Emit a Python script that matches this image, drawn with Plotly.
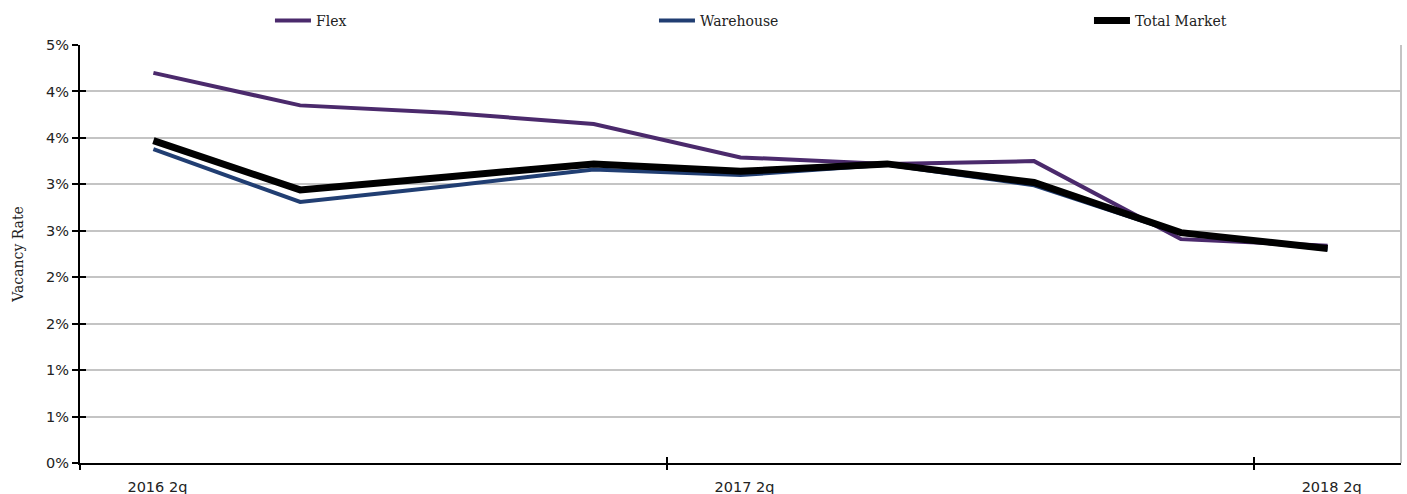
import plotly.graph_objects as go

# Quarterly vacancy rates by property type
quarters = ["2016 2q", "2016 3q", "2016 4q", "2017 1q", "2017 2q",
            "2017 3q", "2017 4q", "2018 1q", "2018 2q"]
flex = [0.0420, 0.0385, 0.0377, 0.0365, 0.0329, 0.0322, 0.0325, 0.0241, 0.0234]
warehouse = [0.0338, 0.0281, 0.0298, 0.0316, 0.0310, 0.0321, 0.0299, 0.0247, 0.0230]
total_market = [0.0347, 0.0294, 0.0308, 0.0322, 0.0314, 0.0322, 0.0302, 0.0248, 0.0231]

y_tickvals = [0.0, 0.005, 0.010, 0.015, 0.020, 0.025, 0.030, 0.035, 0.040, 0.045]
y_ticktext = ["0%", "1%", "1%", "2%", "2%", "3%", "3%", "4%", "4%", "5%"]
x_labelled = [quarters[0], quarters[4], quarters[8]]
x_boundaries = [-0.5, 3.5, 7.5]
x_range = [-0.5, 8.5]
y_range = [0, 0.045]

SERIF = "DejaVu Serif"
SANS = "DejaVu Sans"

fig = go.Figure()
fig.add_trace(go.Scatter(x=quarters, y=flex, name="Flex", mode="lines",
                         line=dict(color="#4B2A6C", width=4), legend="legend"))
fig.add_trace(go.Scatter(x=quarters, y=warehouse, name="Warehouse", mode="lines",
                         line=dict(color="#213E72", width=4), legend="legend2"))
fig.add_trace(go.Scatter(x=quarters, y=total_market, name="Total Market", mode="lines",
                         line=dict(color="#000000", width=7), legend="legend3"))

# Empty helper traces so the overlay axes (crossing tick marks) get drawn
for xa, ya in [("x2", "y"), ("x3", "y"), ("x", "y2")]:
    fig.add_trace(go.Scatter(x=[None], y=[None], xaxis=xa, yaxis=ya, mode="none",
                             showlegend=False, hoverinfo="skip"))

legend_common = dict(y=1.055, xanchor="left", yanchor="middle", orientation="h",
                     bgcolor="rgba(0,0,0,0)", borderwidth=0, itemwidth=36,
                     font=dict(family=SERIF, size=14, color="#222222"))

tick_overlay = dict(ticklen=6, tickwidth=2, tickcolor="black", showticklabels=False,
                    showgrid=False, zeroline=False, showline=False, automargin=False)

fig.update_layout(
    width=1407, height=494,
    margin=dict(l=80, r=6, t=44, b=31),
    paper_bgcolor="white", plot_bgcolor="white",
    showlegend=True,
    legend=dict(x=0.1438, **legend_common),
    legend2=dict(x=0.4345, **legend_common),
    legend3=dict(x=0.7638, **legend_common),
    xaxis=dict(type="category", categoryorder="array", categoryarray=quarters,
               range=x_range, tickvals=x_labelled, ticks="",
               ticklabelstandoff=10, ticklabelshift=4,
               showline=True, linecolor="black", linewidth=2,
               showgrid=False, zeroline=False, automargin=False,
               tickfont=dict(family=SANS, size=14.5, color="#222222")),
    xaxis2=dict(overlaying="x", anchor="y", type="linear", range=x_range,
                tickvals=x_boundaries, ticks="outside", **tick_overlay),
    xaxis3=dict(overlaying="x", anchor="y", type="linear", range=x_range,
                tickvals=x_boundaries, ticks="inside", **tick_overlay),
    yaxis=dict(range=y_range, tickvals=y_tickvals, ticktext=y_ticktext,
               ticks="outside", ticklen=6, tickwidth=2, tickcolor="black",
               showline=True, linecolor="black", linewidth=2,
               showgrid=True, gridcolor="#C4C4C4", gridwidth=2,
               zeroline=False, automargin=False,
               tickfont=dict(family=SANS, size=14.5, color="#222222"),
               title=dict(text="Vacancy Rate", standoff=19,
                          font=dict(family=SERIF, size=14, color="#222222"))),
    yaxis2=dict(overlaying="y", anchor="x", range=y_range,
                tickvals=y_tickvals, ticks="inside", **tick_overlay),
    shapes=[dict(type="line", xref="paper", yref="paper", x0=1, x1=1, y0=0, y1=1,
                 line=dict(color="#C4C4C4", width=2), layer="below")],
)

fig.write_html("out.html")
